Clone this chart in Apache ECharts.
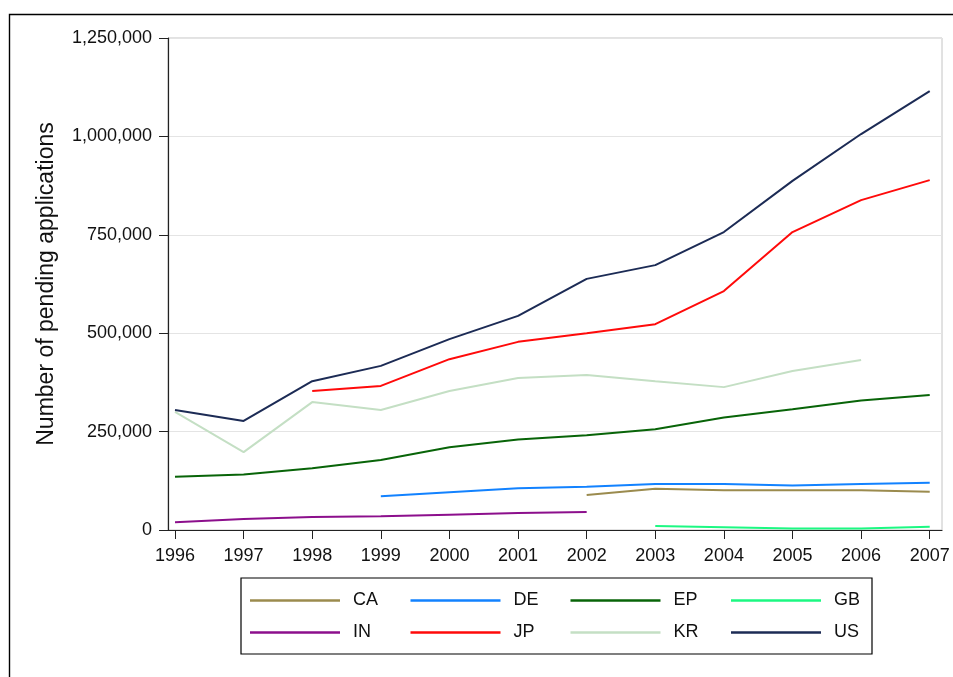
<!DOCTYPE html>
<html>
<head>
<meta charset="utf-8">
<script src="https://cdn.jsdelivr.net/npm/echarts@6/dist/echarts.min.js"></script>
<style>
  html, body { margin: 0; padding: 0; background: #fff; }
  #chart { width: 953px; height: 677px; }
</style>
</head>
<body>
<div id="chart"></div>
<script>
const years = [1996, 1997, 1998, 1999, 2000, 2001, 2002, 2003, 2004, 2005, 2006, 2007];
const yTicks = [0, 250000, 500000, 750000, 1000000, 1250000];

// pending applications, per office (null = no data)
const CA = [null, null, null, null, null, null, 89000, 105000, 101000, 101000, 101000, 97000];
const DE = [null, null, null, 86000, 96000, 106000, 110000, 117000, 117000, 113000, 117000, 120000];
const EP = [135000, 141000, 157000, 178000, 210000, 230000, 241000, 256000, 286000, 307000, 329000, 343000];
const GB = [null, null, null, null, null, null, null, 10000, 7000, 3500, 4000, 8500];
const IN = [19500, 28000, 33000, 35000, 39000, 43000, 46000, null, null, null, null, null];
const JP = [null, null, 353000, 366000, 434000, 478000, 500000, 523000, 607000, 757000, 838000, 889000];
const KR = [300000, 198000, 325000, 305000, 353000, 386000, 394000, 378000, 363000, 404000, 432000, null];
const US = [305000, 277000, 378000, 417000, 485000, 544000, 638000, 673000, 757000, 887000, 1006000, 1115000];

const offices = [
  { name: "CA", data: CA, color: "#9b8b4e" },
  { name: "DE", data: DE, color: "#1282ff" },
  { name: "EP", data: EP, color: "#086408" },
  { name: "GB", data: GB, color: "#1cf882" },
  { name: "IN", data: IN, color: "#8c0f8c" },
  { name: "JP", data: JP, color: "#ff0a0a" },
  { name: "KR", data: KR, color: "#c4dfc4" },
  { name: "US", data: US, color: "#1c2b55" },
];

const font = "'Liberation Sans', Arial, sans-serif";

const chart = echarts.init(document.getElementById("chart"));

const legendCols = [["CA", "IN"], ["DE", "JP"], ["EP", "KR"], ["GB", "US"]];
const legendLeft = [250, 410.5, 570.5, 731];

chart.setOption({
  animation: false,
  backgroundColor: "#fff",
  grid: {
    left: 168, right: 11, top: 38, bottom: 147,
    show: true, borderColor: "#c4c4c4", borderWidth: 1,
  },
  xAxis: {
    type: "value",
    min: 1995.898,
    max: 2007.179,
    axisLine: { lineStyle: { color: "#222", width: 1.2 } },
    axisTick: { length: 9, customValues: years, lineStyle: { color: "#222" } },
    axisLabel: {
      customValues: years,
      formatter: (v) => String(v),
      fontSize: 18, color: "#111", fontFamily: font, margin: 17,
    },
    splitLine: { show: false },
  },
  yAxis: {
    type: "value",
    min: 0, max: 1250000, interval: 250000,
    name: "Number of pending applications",
    nameLocation: "middle",
    nameGap: 110,
    nameTextStyle: { fontSize: 23, color: "#111", fontFamily: font },
    axisLine: { show: true, lineStyle: { color: "#222", width: 1.2 } },
    axisTick: { show: true, length: 9, lineStyle: { color: "#222" } },
    axisLabel: {
      formatter: (v) => v.toLocaleString("en-US"),
      fontSize: 18, color: "#111", fontFamily: font, margin: 16,
      padding: [4, 0, 0, 0],
    },
    splitLine: { lineStyle: { color: "#e4e4e4", width: 1 } },
  },
  legend: legendCols.map((col, i) => ({
    data: col,
    orient: "vertical",
    left: legendLeft[i],
    top: 590.5,
    padding: 0,
    itemGap: 12,
    itemWidth: 90,
    itemHeight: 2.4,
    icon: "rect",
    selectedMode: false,
    textStyle: { fontSize: 18, lineHeight: 20, color: "#111", fontFamily: font, padding: [0, 0, 0, 8] },
  })),
  graphic: [
    {
      type: "rect", silent: true,
      shape: { x: 9.5, y: 14.5, width: 1000, height: 700 },
      style: { fill: null, stroke: "#000", lineWidth: 1.4 },
    },
    {
      type: "rect", silent: true,
      shape: { x: 241, y: 578, width: 631, height: 76 },
      style: { fill: null, stroke: "#000", lineWidth: 1.2 },
    },
  ],
  series: offices.map((o) => ({
    name: o.name,
    type: "line",
    showSymbol: false,
    color: o.color,
    lineStyle: { color: o.color, width: 2 },
    data: years.map((y, k) => (o.data[k] == null ? null : [y, o.data[k]])).filter((d) => d),
  })),
});
</script>
</body>
</html>
